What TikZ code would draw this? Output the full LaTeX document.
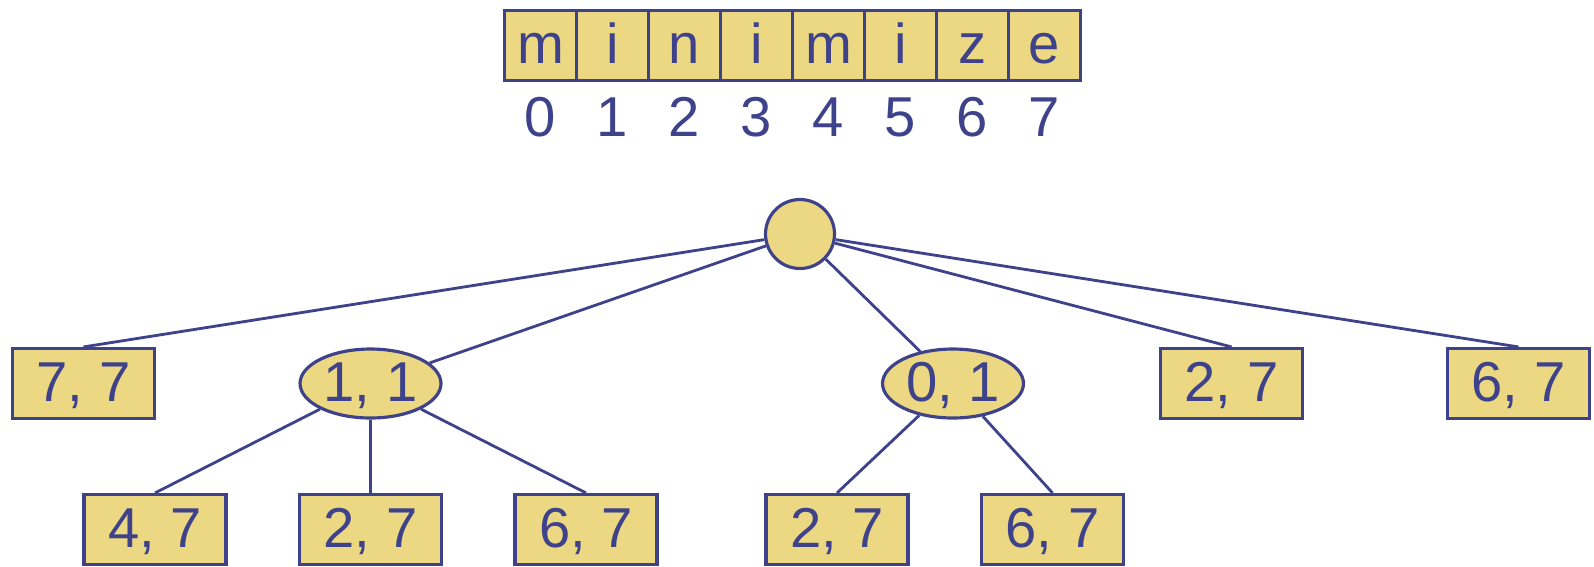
\documentclass[tikz,border=0pt]{standalone}
\usepackage{fontspec}
\setmainfont{Liberation Sans}
\usepackage{tikz}
\usetikzlibrary{shapes.geometric}

\definecolor{cellfill}{HTML}{ECD783}
\definecolor{inkblue}{HTML}{3D428B}

\tikzset{
    bigtext/.style={text=inkblue, font=\fontsize{32}{38}\selectfont, text height=0.8cm, text depth=0.1cm},
    cell/.style={bigtext, draw=inkblue, fill=cellfill, line width=1.8pt, inner sep=0pt, minimum width=1.44cm, minimum height=1.40cm},
    idx/.style={bigtext, inner sep=0pt},
    rbox/.style={cell, minimum width=2.84cm},
    roval/.style={cell, ellipse, minimum width=2.82cm, minimum height=1.38cm},
    rootnode/.style={cell, circle, minimum size=1.38cm},
    edge/.style={draw=inkblue, line width=1.6pt}
}

\begin{document}
\begin{tikzpicture}[x=0.02cm, y=-0.02cm]
    \useasboundingbox (0,0) rectangle (1594,566);

    % Define nodes
    \foreach \ch [count=\i from 0] in {m,i,n,i,m,i,z,e} {
        \node[cell] (c\i) at (540.5+72*\i,45.5) {\ch};
        \node[idx] (i\i) at (540.5+72*\i,119) {\i};
    }

    \node[rootnode] (root) at (800,234) {};

    \node[rbox] (A1) at (83.5,383.5) {7, 7};
    \node[roval] (A2) at (370.5,383.5) {1, 1};
    \node[roval] (A3) at (953,383.5) {0, 1};
    \node[rbox] (A4) at (1231.5,383.5) {2, 7};
    \node[rbox] (A5) at (1518.5,383.5) {6, 7};

    \node[rbox] (B1) at (155,529.5) {4, 7};
    \node[rbox] (B2) at (370.5,529.5) {2, 7};
    \node[rbox] (B3) at (586,529.5) {6, 7};
    \node[rbox] (B4) at (837,529.5) {2, 7};
    \node[rbox] (B5) at (1052.5,529.5) {6, 7};

    % Draw edges
    \draw[edge] (root) -- (A1.north);
    \draw[edge] (root) -- (A2);
    \draw[edge] (root) -- (A3);
    \draw[edge] (root) -- (A4.north);
    \draw[edge] (root) -- (A5.north);

    \draw[edge] (A2) -- (B1.north);
    \draw[edge] (A2) -- (B2.north);
    \draw[edge] (A2) -- (B3.north);
    \draw[edge] (A3) -- (B4.north);
    \draw[edge] (A3) -- (B5.north);
\end{tikzpicture}
\end{document}
